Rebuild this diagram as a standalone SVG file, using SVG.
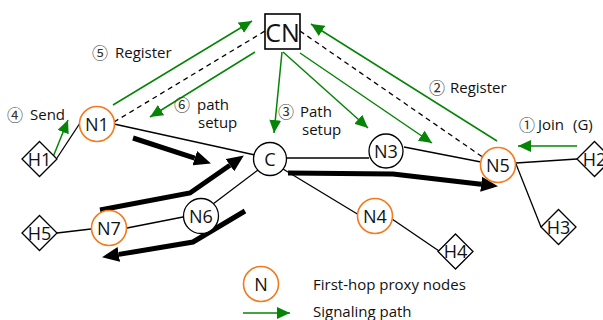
<svg xmlns="http://www.w3.org/2000/svg" width="603" height="320" viewBox="0 0 603 320">
  <style>
    .bg { fill: #ffffff; }
    .link { stroke: #000; stroke-width: 1.3; fill: none; }
    .dash { stroke: #000; stroke-width: 1.3; fill: none; stroke-dasharray: 5 4; }
    .sig { stroke: #068406; stroke-width: 1.5; fill: none; marker-end: url(#g-head); }
    .flow { stroke: #000; stroke-width: 5; fill: none; stroke-linejoin: miter; marker-end: url(#b-head); }
    .proxy { fill: #fff; stroke: #f47a20; stroke-width: 1.6; }
    .router { fill: #fff; stroke: #000; stroke-width: 1.3; }
    .host { fill: #fff; stroke: #000; stroke-width: 1.3; }
    .node-label { font-family: "Open Sans", "Noto Sans", sans-serif; font-size: 18px; fill: #111; text-anchor: middle; }
    .cn-label { font-family: "Open Sans", "Noto Sans", sans-serif; font-size: 25px; fill: #111; text-anchor: middle; }
    .note { font-family: "Open Sans", "Noto Sans CJK KR", sans-serif; font-size: 15px; fill: #111; }
    .num { font-family: "Noto Sans CJK KR", "DejaVu Sans", sans-serif; font-size: 16px; fill: #333; }
  </style>
  <defs>
    <marker id="g-head" markerUnits="userSpaceOnUse" markerWidth="14" markerHeight="12" refX="13" refY="6" orient="auto">
      <path d="M0,0 L13,6 L0,12 Z" fill="#068406"/>
    </marker>
    <marker id="b-head" markerUnits="userSpaceOnUse" markerWidth="17" markerHeight="15" refX="0" refY="7.5" orient="auto">
      <path d="M0,0 L17,7.5 L0,15 Z" fill="#000"/>
    </marker>
  </defs>

  <rect class="bg" x="0" y="0" width="603" height="320"/>

  <!-- connectors -->
  <g id="connectors">
    <!-- physical links -->
    <line class="link" x1="57" y1="158" x2="80" y2="123"/>
    <line class="link" x1="114" y1="124" x2="255" y2="155"/>
    <line class="link" x1="287" y1="158" x2="369" y2="158"/>
    <line class="link" x1="404" y1="147" x2="481" y2="162"/>
    <line class="link" x1="283" y1="169" x2="359" y2="215"/>
    <line class="link" x1="392" y1="219" x2="439" y2="251"/>
    <line class="link" x1="258" y1="170" x2="213" y2="204"/>
    <line class="link" x1="183" y1="217" x2="127" y2="228"/>
    <line class="link" x1="91" y1="229" x2="57" y2="233"/>
    <line class="link" x1="516" y1="163" x2="577" y2="159"/>
    <line class="link" x1="516" y1="164" x2="541" y2="227"/>

    <!-- control links to the core node -->
    <line class="dash" x1="114" y1="122" x2="265" y2="31"/>
    <line class="dash" x1="300" y1="31" x2="484" y2="158"/>

    <!-- signaling -->
    <line class="sig" x1="53" y1="157" x2="68" y2="120"/>
    <line class="sig" x1="113" y1="105" x2="252" y2="21"/>
    <line class="sig" x1="255" y1="52" x2="150" y2="117"/>
    <line class="sig" x1="282" y1="52" x2="274" y2="133"/>
    <line class="sig" x1="283" y1="52" x2="368" y2="128"/>
    <line class="sig" x1="300" y1="53" x2="432" y2="143"/>
    <line class="sig" x1="497" y1="141" x2="311" y2="24"/>
    <line class="sig" x1="577" y1="146" x2="518" y2="146"/>

    <!-- data flow -->
    <path class="flow" d="M133,138 L194.8,158.2"/>
    <path class="flow" d="M100,210 L190,193 L229.9,165.2"/>
    <path class="flow" d="M245,211 L193,242 L118.8,254.4"/>
    <path class="flow" d="M288,173 L393,174 L481.1,184.2"/>
  </g>

  <!-- nodes -->
  <g id="CN">
    <rect x="265" y="14" width="35" height="35" fill="#fff" stroke="#000" stroke-width="1.6"/>
    <text class="cn-label" x="282.5" y="42">CN</text>
  </g>
  <g id="N1">
    <circle class="proxy" cx="97" cy="124" r="17.5"/>
    <text class="node-label" x="97" y="130.5">N1</text>
  </g>
  <g id="C">
    <circle class="router" cx="270" cy="159" r="16.5"/>
    <text class="node-label" x="270" y="165.5">C</text>
  </g>
  <g id="N3">
    <circle class="router" cx="386" cy="151" r="17"/>
    <text class="node-label" x="386" y="157.5">N3</text>
  </g>
  <g id="N5">
    <circle class="proxy" cx="498" cy="165" r="17.5"/>
    <text class="node-label" x="498" y="171.5">N5</text>
  </g>
  <g id="N4">
    <circle class="proxy" cx="375" cy="216" r="17.5"/>
    <text class="node-label" x="375" y="222.5">N4</text>
  </g>
  <g id="N6">
    <circle class="router" cx="201" cy="216" r="17.5"/>
    <text class="node-label" x="201" y="222.5">N6</text>
  </g>
  <g id="N7">
    <circle class="proxy" cx="109" cy="228" r="17.5"/>
    <text class="node-label" x="109" y="234.5">N7</text>
  </g>
  <g id="H1">
    <path class="host" d="M39.5,141.5 L57,159 L39.5,176.5 L22,159 Z"/>
    <text class="node-label" x="39.5" y="165.5">H1</text>
  </g>
  <g id="H2">
    <path class="host" d="M594.5,141.5 L612,159 L594.5,176.5 L577,159 Z"/>
    <text class="node-label" x="594.5" y="165.5">H2</text>
  </g>
  <g id="H3">
    <path class="host" d="M558.5,209.5 L576,227 L558.5,244.5 L541,227 Z"/>
    <text class="node-label" x="558.5" y="233.5">H3</text>
  </g>
  <g id="H4">
    <path class="host" d="M455.5,234 L473,251.5 L455.5,269 L438,251.5 Z"/>
    <text class="node-label" x="455.5" y="258">H4</text>
  </g>
  <g id="H5">
    <path class="host" d="M39.5,215.5 L57,233 L39.5,250.5 L22,233 Z"/>
    <text class="node-label" x="39.5" y="239.5">H5</text>
  </g>

  <!-- step annotations -->
  <g id="labels">
    <text class="num" x="7" y="120.5">④</text>
    <text class="note" x="30" y="120">Send</text>
    <text class="num" x="92" y="58.5">⑤</text>
    <text class="note" x="115" y="58">Register</text>
    <text class="num" x="174" y="110.5">⑥</text>
    <text class="note" x="197" y="110">path</text>
    <text class="note" x="198" y="128">setup</text>
    <text class="num" x="278" y="117.5">③</text>
    <text class="note" x="300" y="117">Path</text>
    <text class="note" x="302" y="135">setup</text>
    <text class="num" x="429" y="93.5">②</text>
    <text class="note" x="450" y="93">Register</text>
    <text class="num" x="519" y="130.5">①</text>
    <text class="note" x="538" y="130">Join</text>
    <text class="note" x="573" y="130">(G)</text>
  </g>

  <!-- legend -->
  <g id="legend">
    <circle class="proxy" cx="261" cy="284" r="17.5"/>
    <text class="node-label" x="261" y="290.5">N</text>
    <text class="note" x="313" y="290">First-hop proxy nodes</text>
    <line class="sig" x1="243" y1="313" x2="290" y2="313"/>
    <text class="note" x="313" y="317">Signaling path</text>
  </g>
</svg>
